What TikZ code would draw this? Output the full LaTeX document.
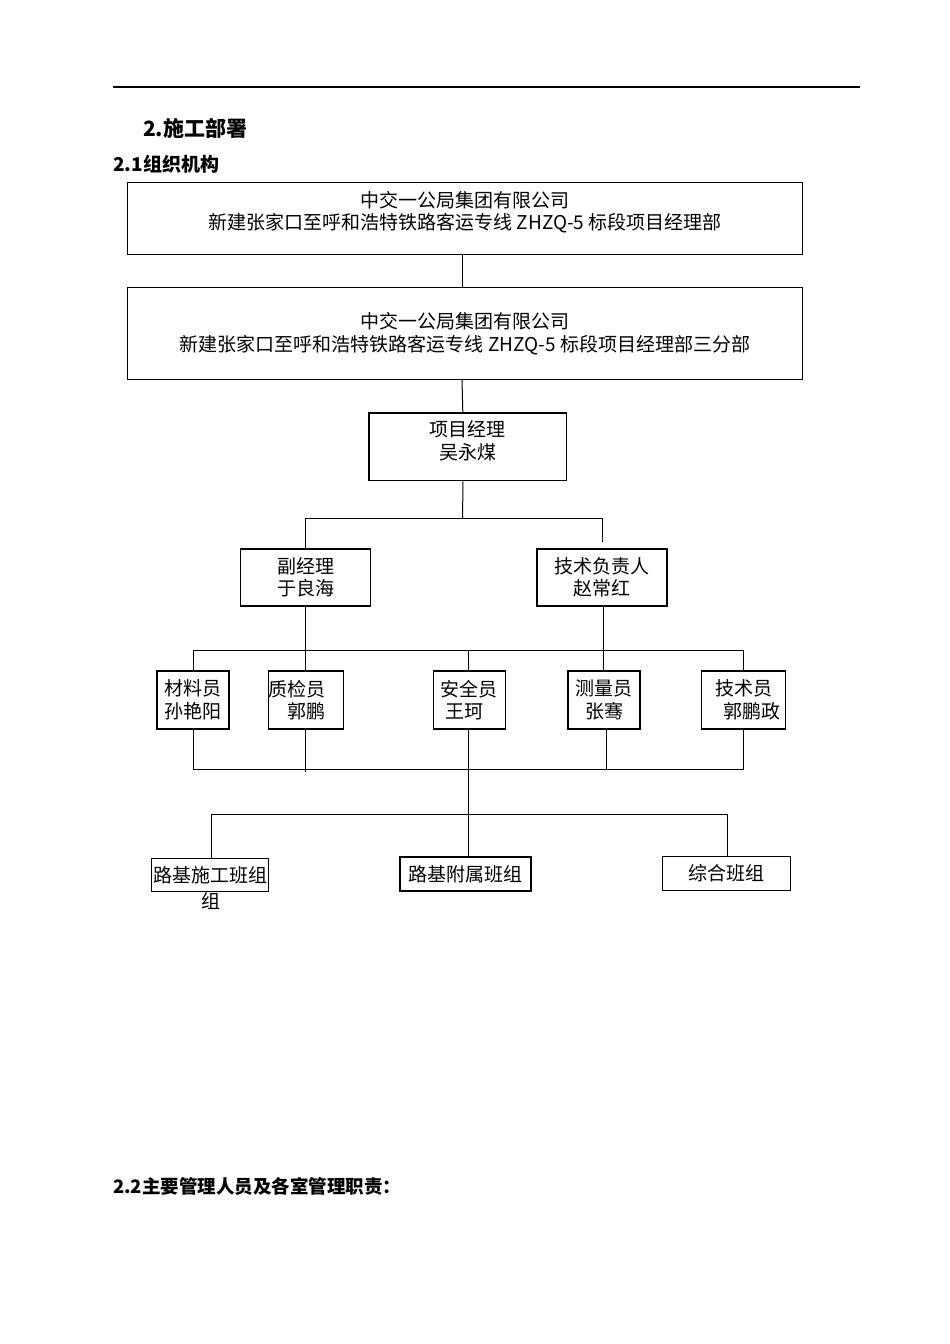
\documentclass[tikz,border=0pt]{standalone}
\usepackage{fontspec}
\setmainfont{Noto Sans CJK SC}
\usepackage{xcolor}
\usepackage{tikz}
\usetikzlibrary{positioning}

\begin{document}
\begin{tikzpicture}[x=1pt,y=-1pt,
  box/.style={draw,line width=1.2pt,inner sep=0pt,align=center,
    font=\fontsize{19}{22.5}\selectfont},
  link/.style={line width=1pt},
  title/.style={inner sep=0pt,anchor=west,font=\bfseries}]
\fill[white] (0,0) rectangle (950,1344);
\draw[line width=1.4pt] (113,87) -- (860,87);
\node[title,font=\bfseries\fontsize{21}{21}\selectfont] (sec) at (143,128) {2.施工部署};
\node[title,font=\bfseries\fontsize{19}{19}\selectfont] (org) at (113,164) {2.1组织机构};
\node[title,font=\bfseries\fontsize{18.5}{18.5}\selectfont] (duty) at (113,1186) {2.2主要管理人员及各室管理职责：};
% headquarters and branch
\node[box,minimum width=675.4pt,minimum height=72pt,text depth=17pt] (hq) at (465,218.7)
  {中交一公局集团有限公司\\新建张家口至呼和浩特铁路客运专线 ZHZQ-5 标段项目经理部};
\node[box,minimum width=675.4pt,minimum height=91.6pt] (branch) at (465,333.5)
  {中交一公局集团有限公司\\新建张家口至呼和浩特铁路客运专线 ZHZQ-5 标段项目经理部三分部};
\node[box,minimum width=197.7pt,minimum height=67.7pt,text depth=14pt] (pm) at (467.8,446.8)
  {项目经理\\吴永煤};
% deputies
\node[box,minimum width=130pt,minimum height=57pt] (deputy) at (305.5,577.5) {副经理\\于良海};
\node[box,minimum width=130pt,minimum height=57pt] (tech) at (602,577.5) {技术负责人\\赵常红};
% staff
\node[box,minimum width=72pt,minimum height=58pt] (mat) at (193,700) {材料员\\孙艳阳};
\node[box,minimum width=74.8pt,minimum height=58pt,text width=74.8pt,align=left] (qc) at (305.9,700)
  {质检员\\\hspace*{19pt}郭鹏};
\node[box,minimum width=72pt,minimum height=58pt] (safe) at (469.3,700) {安全员\\王珂\hspace*{10pt}};
\node[box,minimum width=72pt,minimum height=58pt] (survey) at (604,700) {测量员\\张骞};
\node[box,minimum width=84pt,minimum height=58pt] (techn) at (743.5,700) {技术员\\\hspace*{16pt}郭鹏政};
% crews
\node[box,minimum width=116.6pt,minimum height=33.4pt] (crew1) at (210,875) {路基施工班组};
\node[inner sep=0pt,font=\fontsize{19}{19}\selectfont] (crew1w) at (210.5,901) {组};
\node[box,minimum width=131pt,minimum height=34pt] (crew2) at (465.5,874) {路基附属班组};
\node[box,minimum width=128pt,minimum height=34pt] (crew3) at (726.7,873.7) {综合班组};

\draw[link] ([xshift=-3pt]hq.south) -- ([xshift=-3pt]branch.north);
\draw[link] ([xshift=-3pt]branch.south) -- ([xshift=-5pt]pm.north);
\coordinate (j1) at (462.7,518.5);
\draw[link] ([xshift=-5pt]pm.south) -- (j1);
\draw[link] (deputy.north) |- (j1) -| ([yshift=6.5pt]tech.north);
\draw[link] (deputy.south) -- (deputy.south |- qc.north);
\draw[link] ([xshift=1pt]tech.south) -- ([xshift=1pt]tech.south |- survey.north);
\draw[link] (mat.north) -- ++(0,-20) -| (techn.north);
\draw[link] ([xshift=-1pt]safe.north) -- ++(0,-20);
\draw[link] (mat.south) -- ++(0,40) -| (techn.south);
\draw[link] (qc.south) -- ++(0,42);
\draw[link] ([xshift=2pt]survey.south) -- ++(0,40);
\draw[link] ([xshift=-1pt]safe.south) -- ([xshift=-1pt]safe.south |- crew2.north);
\draw[link] ([xshift=1pt]crew1.north) -- ++(0,-43.3) -| ([xshift=1pt]crew3.north);
\end{tikzpicture}
\end{document}
